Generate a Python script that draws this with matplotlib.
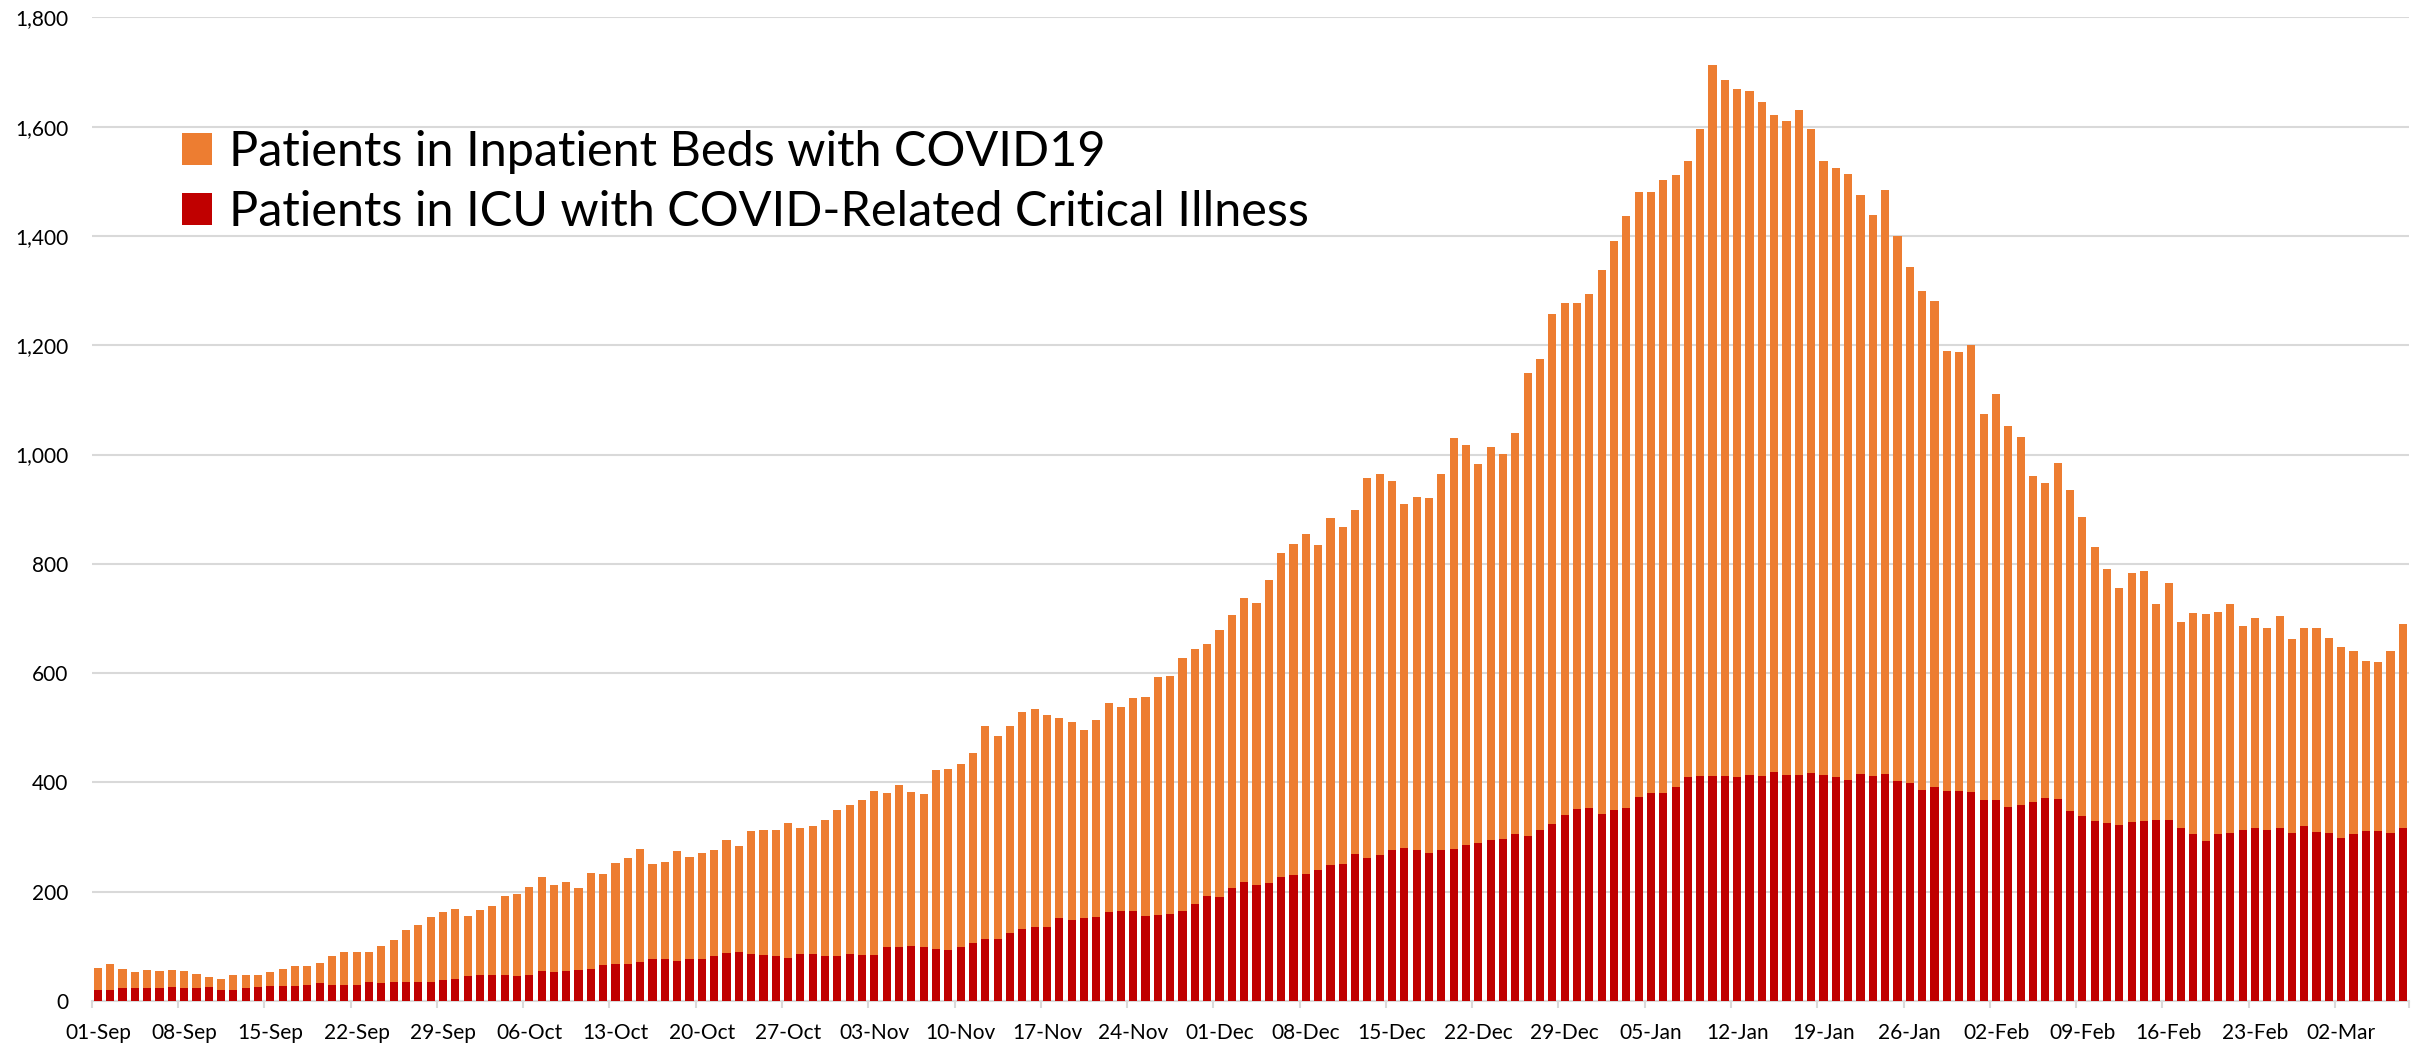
import matplotlib
matplotlib.use("Agg")
import matplotlib.pyplot as plt
import pandas as pd
from matplotlib.patches import Patch

# -----------------------------------
# DATA
# -----------------------------------
start_date = "2020-09-01"
n_days = 188

inpatient = [
    60, 67, 59, 53, 57, 55, 56, 55, 49, 43, 40, 48, 48, 47, 53, 59, 64, 64, 70, 82, 89, 89, 90, 101, 112,
    129, 139, 153, 163, 168, 156, 167, 174, 193, 196, 209, 227, 212, 217, 206, 235, 232, 253, 262, 279, 251, 254, 275, 264,
    271, 276, 295, 284, 311, 313, 312, 325, 316, 321, 331, 350, 358, 368, 385, 381, 395, 382, 378, 423, 425, 433, 453, 503, 484,
    503, 528, 534, 524, 517, 511, 496, 515, 546, 538, 554, 557, 593, 595, 628, 644, 654, 679, 706, 738, 729, 771, 820, 836, 854,
    835, 884, 867, 899, 957, 964, 952, 909, 922, 920, 964, 1030, 1018, 983, 1014, 1001, 1040, 1149, 1174, 1258, 1278, 1277, 1294,
    1338, 1391, 1436, 1480, 1480, 1503, 1512, 1538, 1596, 1712, 1686, 1669, 1665, 1645, 1621, 1610, 1630, 1596, 1537, 1524, 1513, 1475, 1439, 1484,
    1399, 1344, 1299, 1280, 1189, 1188, 1200, 1074, 1110, 1053, 1032, 961, 948, 984, 935, 885, 831, 791, 755, 784, 786, 726,
    764, 694, 710, 709, 712, 727, 687, 701, 682, 705, 662, 682, 682, 665, 647, 640, 623, 621, 640, 689,
]

icu = [
    21, 21, 24, 23, 24, 24, 26, 24, 23, 26, 20, 21, 24, 26, 28, 28, 28, 30, 32, 30, 30, 30, 34, 32, 35,
    35, 35, 35, 39, 41, 45, 47, 48, 48, 45, 48, 54, 53, 54, 57, 59, 65, 68, 67, 72, 77, 76, 74, 77,
    76, 83, 87, 90, 86, 85, 83, 79, 86, 86, 83, 83, 86, 85, 85, 98, 98, 101, 99, 96, 94, 99, 107, 114, 114,
    124, 132, 135, 135, 152, 149, 152, 154, 162, 164, 164, 155, 158, 160, 165, 178, 193, 191, 206, 217, 212, 215, 226, 230, 233,
    240, 249, 251, 269, 262, 267, 276, 280, 277, 270, 276, 279, 286, 290, 295, 297, 305, 301, 313, 323, 341, 351, 353,
    343, 349, 353, 373, 380, 380, 392, 409, 411, 412, 411, 409, 414, 412, 419, 414, 414, 418, 414, 409, 405, 416, 411, 416,
    403, 399, 386, 391, 384, 384, 382, 368, 367, 355, 358, 364, 371, 369, 348, 339, 330, 326, 322, 328, 330, 331,
    332, 316, 306, 293, 306, 308, 312, 316, 312, 316, 307, 321, 310, 308, 299, 305, 311, 311, 307, 317,
]

labels = ["Patients in Inpatient Beds with COVID19",
          "Patients in ICU with COVID-Related Critical Illness"]

dates = pd.date_range(start_date, periods=n_days, freq="D")
x = list(range(n_days))

ORANGE = "#ED7D31"
RED = "#C00000"
GRID = "#D9D9D9"

plt.rcParams["font.family"] = ["Lato", "DejaVu Sans"]

# -----------------------------------
# FIGURE
# -----------------------------------
fig = plt.figure(figsize=(24.25, 10.44), dpi=100)
ax = fig.add_axes([0.0378, 0.0412, 0.9556, 0.9422])

ax.bar(x, inpatient, width=0.66, color=ORANGE, zorder=2)
ax.bar(x, icu, width=0.66, color=RED, zorder=3)

ax.set_xlim(-0.5, n_days - 0.5)
ax.set_ylim(0, 1800)

# y axis
ax.set_yticks(range(0, 1801, 200))
ax.set_yticklabels([f"{v:,}" for v in range(0, 1801, 200)])
ax.tick_params(axis="y", length=0, pad=17, labelsize=15, colors="#000000")
ax.yaxis.grid(True, color=GRID, linewidth=1.5, zorder=0)
ax.set_axisbelow(True)

# x axis: labels on every 7th bar, tick marks between categories
week_idx = list(range(0, n_days, 7))
ax.set_xticks(week_idx)
ax.set_xticklabels([dates[i].strftime("%d-%b") for i in week_idx])
ax.tick_params(axis="x", length=0, pad=16, labelsize=15)
ax.set_xticks([i - 0.5 for i in week_idx] + [n_days - 0.5], minor=True)
ax.tick_params(axis="x", which="minor", length=5, width=1.5, color=GRID)

for side in ["top", "right", "left"]:
    ax.spines[side].set_visible(False)
ax.spines["bottom"].set_color(GRID)
ax.spines["bottom"].set_linewidth(1.5)

# legend
handles = [Patch(facecolor=ORANGE), Patch(facecolor=RED)]
fig.legend(handles, labels, loc="upper left",
           bbox_to_anchor=(182 / 2425, 1 - 130 / 1044),
           frameon=False, fontsize=35, borderpad=0, borderaxespad=0,
           handlelength=0.62, handleheight=0.62, handletextpad=0.34,
           labelspacing=0.33)

plt.savefig("out.png", dpi=100)
plt.close()
